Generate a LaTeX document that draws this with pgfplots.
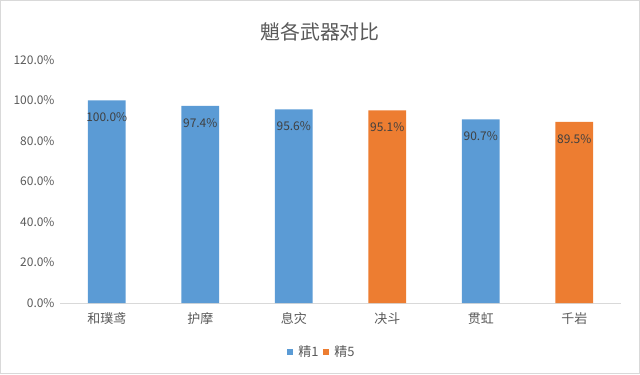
\documentclass[border=0pt]{standalone}
\usepackage{pgfplots}
\pgfplotsset{compat=1.18}
\usepackage{pgfplotstable}
\usepackage{fontspec}
\setmainfont{Noto Sans CJK SC}
\definecolor{blueb}{HTML}{5B9BD5}
\definecolor{orangeb}{HTML}{ED7D31}
\definecolor{txt}{HTML}{595959}
\definecolor{lbl}{HTML}{404040}
\definecolor{axl}{HTML}{D9D9D9}

\pgfplotstableread{
x y
0 100.0
1 97.4
2 95.6
4 90.7
}\jingone
\pgfplotstableread{
x y
3 95.1
5 89.5
}\jingfive

\begin{document}
\begin{tikzpicture}[x=1bp,y=1bp]
\useasboundingbox (0,0) rectangle (640,374);
\draw[color=axl, line width=1bp] (0.5,0.5) rectangle (639.5,373.5);
\node[text=txt, font=\fontsize{20}{24}\selectfont] at (320,342) {魈各武器对比};
\begin{axis}[
  at={(60bp,71bp)}, anchor=south west, scale only axis,
  width=561bp, height=243bp,
  xmin=-0.5, xmax=5.5, ymin=0, ymax=120,
  clip=false,
  axis x line*=bottom, axis y line*=left,
  x axis line style={draw=axl, line width=0.75bp},
  y axis line style={draw=none},
  major tick length=0pt,
  /pgf/number format/assume math mode=true,
  ytick={0,20,40,60,80,100,120},
  yticklabel={\pgfmathprintnumber[fixed,fixed zerofill,precision=1]{\tick}\%},
  y tick label style={text=txt, font=\fontsize{12}{14}\selectfont, xshift=-2bp},
  xtick={0,1,2,3,4,5},
  xticklabels={和璞鸢,护摩,息灾,决斗,贯虹,千岩},
  x tick label style={text=txt, font=\fontsize{13}{15}\selectfont, yshift=-6bp},
  legend style={at={(axis description cs:0.467,-0.2)}, anchor=center, draw=none,
    font=\fontsize{13}{15}\selectfont, text=txt, column sep=3bp, inner sep=1bp},
  legend columns=2,
  legend image code/.code={\fill[#1] (0bp,-3bp) rectangle (6bp,3bp);},
]
\addplot[ybar, bar shift=0pt, bar width=0.406, fill=blueb, draw=none,
  nodes near coords={\pgfmathprintnumber[fixed,fixed zerofill,precision=1]{\pgfplotspointmeta}\%},
  every node near coord/.append style={anchor=center, yshift=-17bp, text=lbl, font=\fontsize{12}{14}\selectfont}]
  table[x=x,y=y]{\jingone};
\addlegendentry{精1}
\addplot[ybar, bar shift=0pt, bar width=0.406, fill=orangeb, draw=none,
  nodes near coords={\pgfmathprintnumber[fixed,fixed zerofill,precision=1]{\pgfplotspointmeta}\%},
  every node near coord/.append style={anchor=center, yshift=-17bp, text=lbl, font=\fontsize{12}{14}\selectfont}]
  table[x=x,y=y]{\jingfive};
\addlegendentry{精5}
\end{axis}
\end{tikzpicture}
\end{document}
